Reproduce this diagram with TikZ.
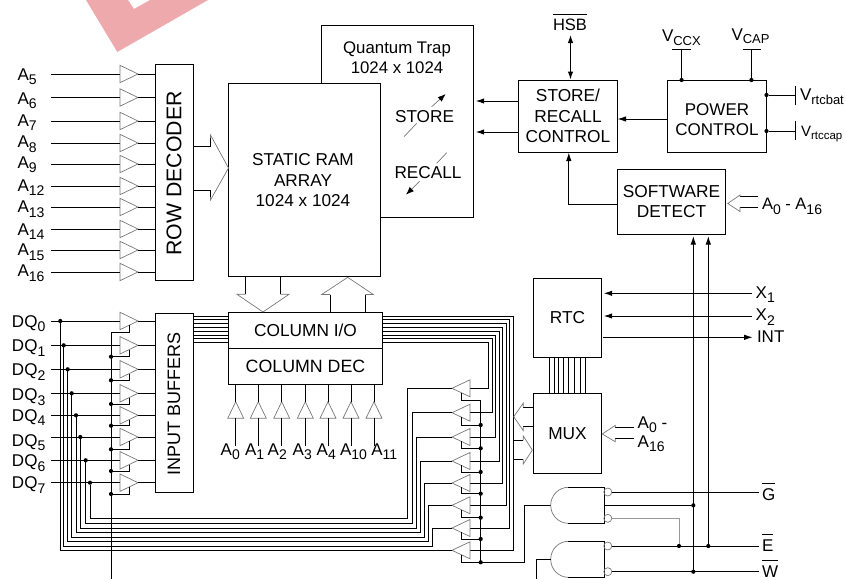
\documentclass[tikz,border=0pt]{standalone}
\usepackage{fontspec}
\setmainfont{Liberation Sans}
\usetikzlibrary{arrows.meta}
\newcommand\myfs[2]{\fontsize{#1}{#2}\selectfont}
\newcommand\sbs[1]{\raisebox{-4.5pt}{\myfs{14}{14}#1}}
\newcommand\sbt[1]{\raisebox{-3.5pt}{\myfs{13}{13}#1}}
\newcommand\obar[1]{\leavevmode\vbox{\hrule height 1.3pt \kern 4pt \hbox{#1}}}
\definecolor{gt}{HTML}{777777}
\definecolor{wm}{HTML}{EEA9AD}
\tikzset{
 wire/.style={line width=1pt,black},
 thin gray/.style={line width=.7pt,gt},
 tipped/.style={wire,-{Latex[length=8.5pt,width=5.5pt]}},
 bothtip/.style={wire,{Latex[length=8pt,width=5.5pt]}-{Latex[length=8pt,width=5.5pt]}},
 blockbox/.style={draw,line width=1pt,inner sep=0pt,outer sep=0pt,align=center,font=\myfs{17.3}{20.5}},
 lab/.style={anchor=base west,inner sep=0pt,outer sep=0pt,font=\myfs{17}{17}},
 ctext/.style={inner sep=0pt,outer sep=0pt,align=center,font=\myfs{17}{20.5}},
 joint/.style={circle,fill=black,inner sep=0pt,minimum size=4.2pt,outer sep=0pt},
}
% buffer pointing right: name, base x, centre y
\newcommand\bufR[3]{%
 \draw[thin gray] (#2,#3-8.7) -- (#2+18,#3) -- (#2,#3+8.7) -- cycle;
 \coordinate (#1in) at (#2,#3);
 \coordinate (#1out) at (#2+18,#3);
 \coordinate (#1en) at (#2+9.3,#3+4.2);
}
% buffer pointing left
\newcommand\bufL[3]{%
 \draw[thin gray] (#2,#3-8.5) -- (#2-18,#3) -- (#2,#3+8.5) -- cycle;
 \coordinate (#1in) at (#2,#3);
 \coordinate (#1out) at (#2-18,#3);
}
\begin{document}
\begin{tikzpicture}[x=1pt,y=-1pt]
\useasboundingbox (0,0) rectangle (846,579);
% watermark
\fill[wm] (86,0) -- (117.3,52) -- (208,0) -- (150,0) -- (134,9) -- (128,0) -- cycle;
% blocks
\node[blockbox,minimum width=38pt,minimum height=216pt] (rowdec) at (174,172.3) {};
\node[blockbox,minimum width=38pt,minimum height=179pt] (inbuf) at (174,402.5) {};
\node[ctext,rotate=90,font=\myfs{21.3}{21.3}] (rowtxt) at (174,173.5) {ROW DECODER};
\node[ctext,rotate=90,font=\myfs{18}{18}] (intxt) at (174,403.5) {INPUT BUFFERS};
\draw[wire] (380.5,217) -- (473.3,217) -- (473.3,25.5) -- (321.3,25.5) -- (321.3,84);
\node[blockbox,minimum width=152pt,minimum height=192.5pt] (ram) at (304.5,180) {};
\node[ctext,font=\myfs{16.8}{20.5}] (trap) at (397,57.5) {Quantum Trap\\1024 x 1024};
\node[ctext,font=\myfs{17.2}{20.5}] (ramtxt) at (303,180.5) {STATIC RAM\\ARRAY\\1024 x 1024};
\node[ctext,font=\myfs{17.2}{20.5}] (storetxt) at (424.5,117) {STORE};
\node[ctext,font=\myfs{17.2}{20.5}] (recalltxt) at (428,173) {RECALL};
\node[blockbox,minimum width=99pt,minimum height=72pt] (ctrl) at (568,116) {STORE/\\RECALL\\CONTROL};
\node[blockbox,minimum width=99pt,minimum height=72pt] (power) at (717,116) {};
\node[ctext] (powertxt) at (717,119.5) {POWER\\CONTROL};
\node[blockbox,minimum width=108pt,minimum height=65pt] (soft) at (671.5,201.5) {SOFTWARE\\DETECT};
\node[blockbox,minimum width=153.6pt,minimum height=36pt] (colio) at (305.5,330.3) {COLUMN I/O};
\node[blockbox,minimum width=153.6pt,minimum height=35.7pt] (coldec) at (305.5,366.2) {\myfs{17.8}{20}COLUMN DEC};
\node[blockbox,minimum width=68.4pt,minimum height=79pt] (rtc) at (567.5,317.8) {RTC};
\node[blockbox,minimum width=68.4pt,minimum height=80pt] (mux) at (567.5,433.3) {MUX};
% store / recall diagonal arrows
\coordinate (sa) at (404,136.7); \coordinate (sb) at (416.7,123.3);
\coordinate (sc) at (431.7,106.7); \coordinate (sd) at (445.7,94);
\coordinate (ra) at (446.7,152.7); \coordinate (rb) at (436.7,163.3);
\coordinate (rc) at (420,181); \coordinate (rd) at (406,194.7);
\draw[thin gray] (sa) -- (sb);
\draw[thin gray] (ra) -- (rb);
\draw[thin gray,-{Latex[length=8pt,width=6pt,black]}] (sc) -- (sd);
\draw[thin gray,-{Latex[length=8pt,width=6pt,black]}] (rc) -- (rd);
% row address lines
\foreach \y/\t/\b [count=\i] in {74/5/80,97.5/6/104,121/7/126,143/8/147.7,164/9/168,186/12/191,207/13/212.7,229/14/235,250/15/255.7,272/16/276.7}{
 \bufR{ra\i}{120}{\y}
 \coordinate (ras\i) at (51,\y);
 \draw[wire] (ras\i) -- (ra\i in);
 \draw[wire] (ra\i out) -- (ra\i out -| rowdec.west);
 \node[lab] (alab\i) at (17.5,\b) {A\sbs{\t}};
}
% row decoder to RAM
\draw[wire] (rowdec.east |- 0,146) -- (210.5,146) -- (210.5,138);
\draw[wire] (rowdec.east |- 0,190) -- (210.5,190) -- (210.5,197);
\draw[thin gray] (210.5,138) -- (210.5,135) -- (ram.west |- 0,168) -- (210.5,200) -- (210.5,197);
% RAM <-> column
\draw[wire] (245.7,276) -- (245.7,294.3);
\draw[wire] (280.3,276) -- (280.3,294.3);
\draw[thin gray] (245.7,294.3) -- (237,294.3) -- (263,312) -- (289,294.3) -- (280.3,294.3);
\draw[wire] (330.3,312) -- (330.3,294.5);
\draw[wire] (365.3,312) -- (365.3,294.5);
\draw[thin gray] (330.3,294.5) -- (321.7,294.5) -- (347.7,277.3) -- (373.3,294.5) -- (365.3,294.5);
% DQ column: input buffers
\foreach \y/\en/\b/\vx [count=\i from 0] in {321/332/327/60.3,345.3/356.7/351.7/63.7,369.3/380.3/375.7/67.7,393.3/404/400.7/71.7,415.3/425.7/421/76,437/449.3/446/80.3,460.3/471/466.7/85.7,482.7/494/488.7/90}{
 \bufR{db\i}{120}{\y}
 \coordinate (dqs\i) at (51,\y);
 \draw[wire] (dqs\i) -- (db\i in);
 \draw[wire] (db\i out) -- (db\i out -| inbuf.west);
 \draw[wire] (db\i en) -- (db\i en |- 0,\en) -- (111,\en);
 \node[joint] (dj\i) at (\vx,\y) {};
 \node[lab] (dqlab\i) at (12,\b) {DQ\sbs{\i}};
 \ifnum\i>0 \node[joint] (ej\i) at (111,\en) {}; \fi
}
\coordinate (enbot) at (111,578.5);
\draw[wire] (111,332) -- (enbot);
% buses beside the column block
\foreach \y/\vx/\ty/\ex/\lowy/\dq [count=\i] in {
 316/513.3/550.3/0/0/0,
 319.8/509.7/528/432.7/546.3/1,
 323.6/506/505.3/428.7/541.7/2,
 327.4/502.3/483/424.3/537/3,
 331.2/499/461/420.3/532.3/4,
 335/495.3/437/416.3/528/5,
 338.8/492/412.7/412.3/523/6,
 342.6/488.3/388.3/407.3/518.3/7}{
 \draw[wire] (inbuf.east |- 0,\y) -- (colio.west |- 0,\y);
 \draw[wire] (colio.east |- 0,\y) -- (\vx,\y) -- (\vx,\ty) -- (470,\ty);
 \bufL{ob\i}{470}{\ty}
 \ifnum\i=1
  \draw[wire] (ob\i out) -- (dj0 |- 0,\ty) -- (dj0);
 \else
  \draw[wire] (ob\i out) -- (\ex,\ty) -- (\ex,\lowy) -- (dj\dq |- 0,\lowy) -- (dj\dq);
 \fi
}
% output-buffer enables
\foreach \n/\ty/\en in {8/388.3/400,7/412.7/425,6/437/448.3,5/461/472,4/483/493.7,3/505.3/517.7,2/528/539,1/550.3/562.3}{
 \coordinate (enl\n) at (461.7,\ty+4.2);
 \draw[wire] (enl\n) -- (461.7,\en) -- (480.7,\en);
 \ifnum\n<8 \node[joint] (oj\n) at (480.7,\en) {}; \fi
}
\draw[wire] (480.7,400) -- (480.7,562.3) -- (524.3,562.3) -- (524.3,505.3) -- (550.7,505.3);
% column address
\foreach \x/\t/\lx [count=\i] in {235.7/0/220.7,258.3/1/245,281.7/2/267.7,305.3/3/292.7,328/4/316.7,351/10/340,374/11/371.3}{
 \draw[thin gray] (\x-8,418.3) -- (\x,401.7) -- (\x+8,418.3) -- cycle;
 \draw[wire] (\x,384) -- (\x,401.7);
 \draw[wire] (\x,418.3) -- (\x,445.7);
 \node[lab] (clab\i) at (\lx,455) {A\sbs{\t}};
}
% control section
\draw[tipped] (ctrl.west |- 0,101) -- (475.7,101);
\draw[tipped] (ctrl.west |- 0,132) -- (475.7,132);
\draw[tipped] (power.west |- 0,119) -- (ctrl.east |- 0,119);
\draw[tipped] (soft.west |- 0,204) -- (568.8,204) -- (568.8,152.5);
\node[ctext,font=\myfs{16.5}{16.5},anchor=base] (hsb) at (570,30.5) {\obar{HSB}};
\draw[bothtip] (570.5,35) -- (570.5,79.5);
\node[lab] (vccx) at (662,41.7) {V\sbt{CCX}};
\node[lab] (vcap) at (731.5,40) {V\sbt{CAP}};
\coordinate (vccxt) at (681.6,49); \coordinate (vcapt) at (751.4,49);
\draw[wire] (vccxt) -- (vccxt |- power.north);
\draw[wire] (vcapt) -- (vcapt |- power.north);
\draw[line width=.8pt] (672.4,49) -- (690.5,49);
\draw[line width=.8pt] (742.5,49) -- (760.5,49);
\node[joint] (j1) at (vccxt |- power.north) {};
\node[joint] (j2) at (vcapt |- power.north) {};
\node[joint] (j3) at (power.east |- 0,95) {};
\node[joint] (j4) at (power.east |- 0,131) {};
\coordinate (vbt) at (795.8,95); \coordinate (vct) at (795.8,131);
\draw[wire] (j3) -- (vbt);
\draw[wire] (j4) -- (vct);
\draw[line width=.8pt] (795.8,86) -- (795.8,104.5);
\draw[line width=.8pt] (795.8,121) -- (795.8,140);
\node[lab] (vrb) at (800,100.7) {V\raisebox{-3.5pt}{\myfs{13}{13}rtcbat}};
\node[lab,font=\myfs{15}{15}] (vrc) at (801,136) {V\raisebox{-3pt}{\myfs{11.5}{11.5}rtccap}};
% A0-A16 into software detect
\draw[wire] (758,196.7) -- (740,196.7);
\draw[wire] (758,207) -- (740,207);
\draw[thin gray] (740,196.7) -- (740,195) -- (727.8,203.5) -- (740,211.5) -- (740,207);
\node[lab,font=\myfs{16.5}{16.5}] (a016) at (762,209.5) {A\sbs{0} - A\sbs{16}};
% MUX address
\draw[wire] (634,427.3) -- (615.3,427.3);
\draw[wire] (634,438.7) -- (615.3,438.7);
\draw[thin gray] (615.3,427.3) -- (615.3,425.3) -- (602.3,434) -- (615.3,441.8) -- (615.3,438.7);
\node[lab] (muxa) at (637.7,428) {A\sbs{0} -};
\node[lab] (muxb) at (637.7,447) {A\sbs{16}};
% MUX to output drivers
\draw[wire] (mux.west |- 0,407.3) -- (523.3,407.3);
\draw[wire] (mux.west |- 0,426.7) -- (523.3,426.7);
\draw[thin gray] (523.3,407.3) -- (523.3,403) -- (513.7,416.7) -- (523.3,430.7) -- (523.3,426.7);
\draw[wire] (513.7,440.3) -- (523.3,440.3);
\draw[wire] (513.7,459.3) -- (523.3,459.3);
\draw[thin gray] (523.3,440.3) -- (523.3,436) -- (532.3,450) -- (523.3,464) -- (523.3,459.3);
% RTC to MUX
\foreach \x in {549.3,554,558.7,563.3,568.3,574.3,580,585.7}{
 \draw[wire] (\x,357.3) -- (\x,393.3);
}
% RTC pins
\coordinate (x1e) at (752,293.3); \coordinate (x2e) at (752,316); \coordinate (inte) at (752.7,337.3);
\draw[tipped,shorten >=2pt] (x1e) -- (x1e -| rtc.east);
\draw[tipped,shorten >=2pt] (x2e) -- (x2e -| rtc.east);
\draw[tipped,shorten <=1.5pt] (inte -| rtc.east) -- (inte);
\node[lab] (x1) at (755.7,298.3) {X\sbs{1}};
\node[lab] (x2) at (755.7,320.5) {X\sbs{2}};
\node[lab] (int) at (757,342.7) {INT};
% AND gates
\draw[thin gray] (568.3,487.3) .. controls (558.6,487.3) and (550.7,495.4) .. (550.7,505.3) .. controls (550.7,515.2) and (558.6,523.3) .. (568.3,523.3);
\draw[wire] (568.3,487.3) -- (604,487.3) -- (604,523.3) -- (568.3,523.3);
\draw[thin gray] (568.3,541.3) .. controls (558.6,541.3) and (550.7,549.4) .. (550.7,559.3) .. controls (550.7,569.2) and (558.6,577.3) .. (568.3,577.3);
\draw[wire] (568.3,541.3) -- (604,541.3) -- (604,577.3) -- (568.3,577.3);
\foreach \y in {492,518.3,546,571.7}{ \draw[thin gray] (607.8,\y) circle[radius=4]; }
\draw[wire] (550.7,559.3) -- (536,559.3) -- (536,579);
\coordinate (ge) at (759,492); \coordinate (ee) at (759,546); \coordinate (we) at (759,571.7);
\draw[wire] (611.8,492) -- (ge);
\draw[wire] (611.8,546) -- (ee);
\draw[wire] (611.8,571.7) -- (we);
\node[joint] (g1) at (693.3,505.3) {};
\node[joint] (g2) at (679,546) {};
\node[joint] (g3) at (708.3,546) {};
\node[joint] (g4) at (693.3,571.7) {};
\draw[wire] (604,505.3) -- (g1);
\draw[line width=.7pt,gt!75] (611.8,518.3) -- (679,518.3) -- (g2);
\draw[tipped] (g4) -- (693.3,236);
\draw[tipped] (g3) -- (708.3,236);
\node[lab] (gl) at (762,500) {\obar{G}};
\node[lab] (el) at (762,551) {\obar{E}};
\node[lab] (wl) at (762,577) {\obar{W}};
\end{tikzpicture}
\end{document}
